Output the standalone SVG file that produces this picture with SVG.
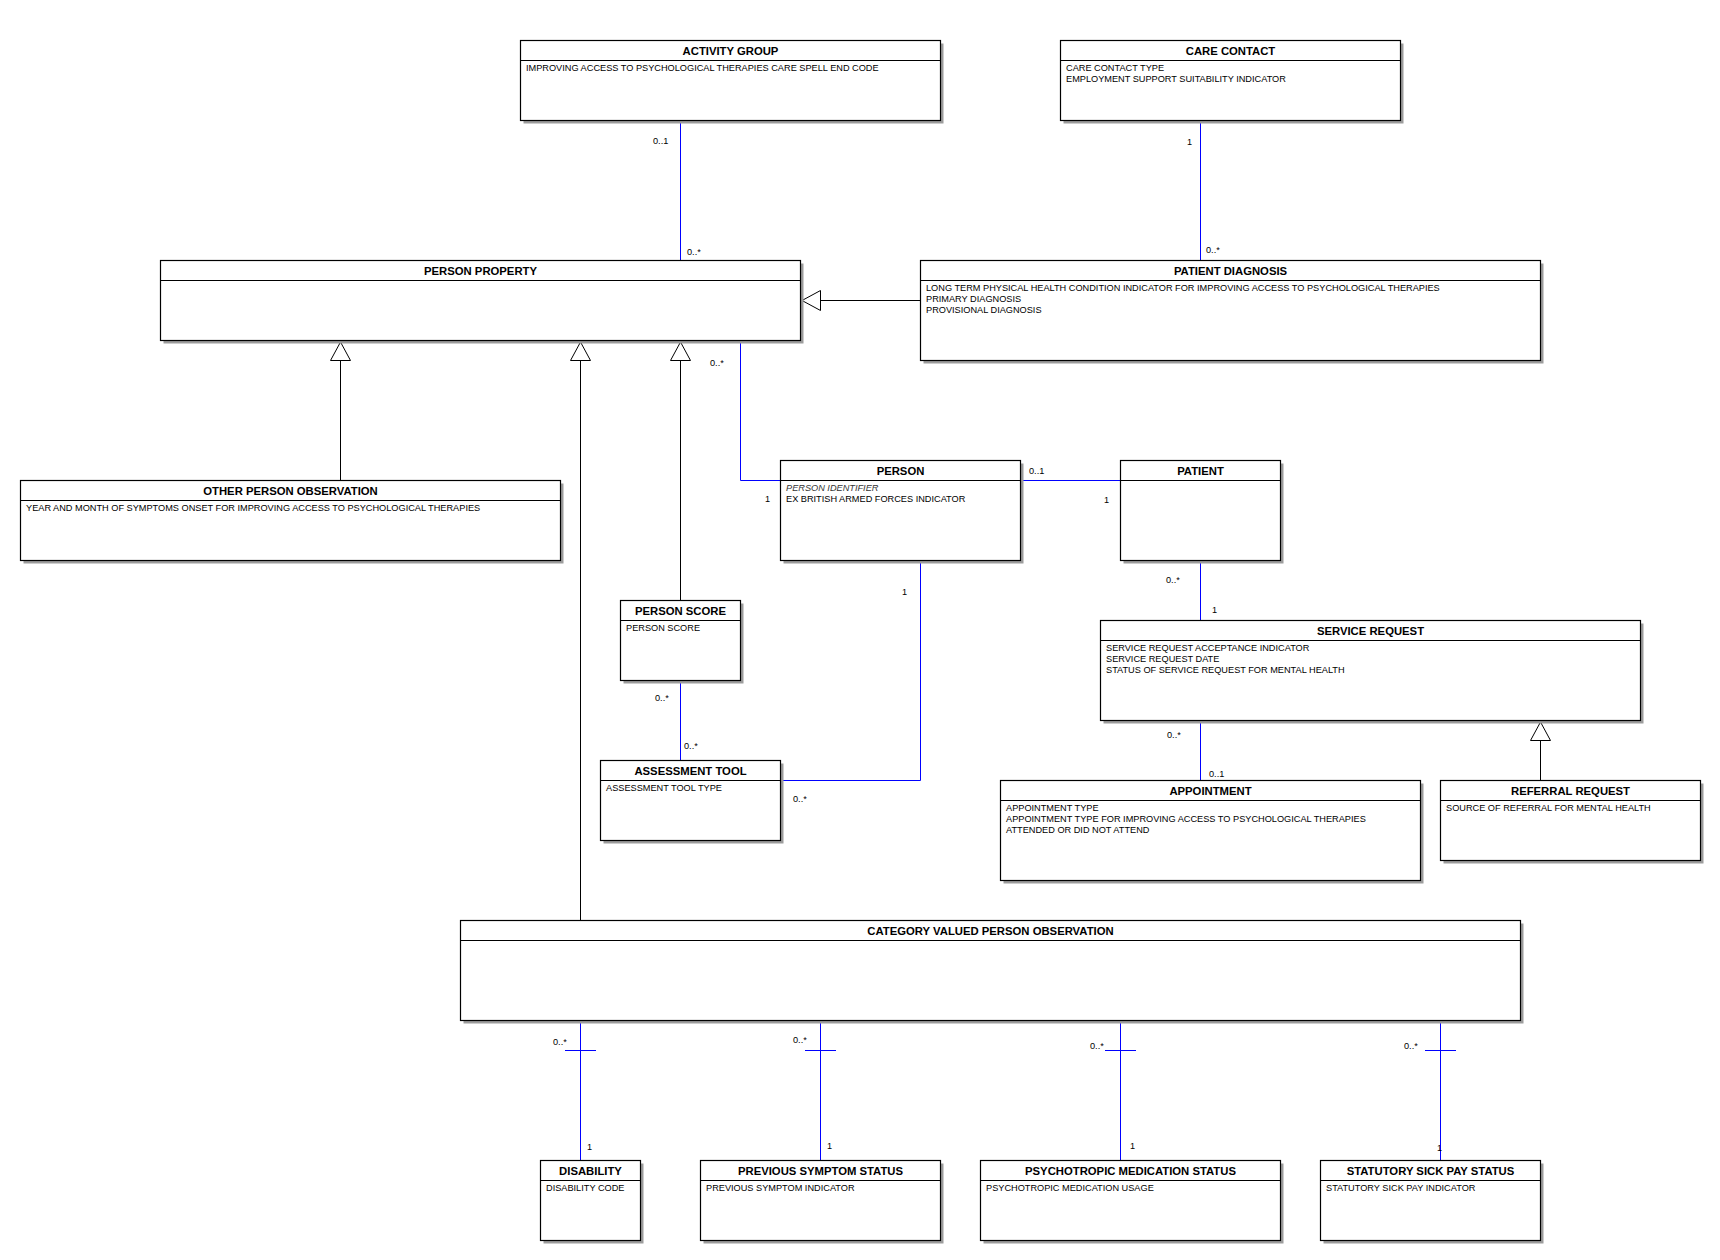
<svg xmlns="http://www.w3.org/2000/svg" width="1720" height="1260" viewBox="0 0 1720 1260">
<style>
.sh{fill:#9c9c9c}
.bx{fill:#fff;stroke:#000;stroke-width:1.2}
.sep{stroke:#000;stroke-width:1}
.hdr{font-family:"Liberation Sans",Arial,sans-serif;font-size:11.3px;font-weight:bold;text-anchor:middle;fill:#000}
.at{font-family:"Liberation Sans",Arial,sans-serif;font-size:9.2px;fill:#000}
.it{font-style:italic;fill:#333}
.lb{font-family:"Liberation Sans",Arial,sans-serif;font-size:9.2px;fill:#000}
.as{fill:none;stroke:#0000ff;stroke-width:1}
.gn{fill:none;stroke:#000;stroke-width:1}
.tr{fill:#fff;stroke:#000;stroke-width:1}
</style>
<rect width="1720" height="1260" fill="#fff"/>
<g id="connectors">
  <line class="as" x1="680.5" y1="120" x2="680.5" y2="260"/>
  <line class="as" x1="1200.5" y1="120" x2="1200.5" y2="260"/>
  <polyline class="as" points="740.5,340 740.5,480.5 780,480.5"/>
  <line class="as" x1="1020" y1="480.5" x2="1120" y2="480.5"/>
  <line class="as" x1="1200.5" y1="560" x2="1200.5" y2="620"/>
  <line class="as" x1="680.5" y1="680" x2="680.5" y2="760"/>
  <polyline class="as" points="920.5,560 920.5,780.5 780,780.5"/>
  <line class="as" x1="1200.5" y1="720" x2="1200.5" y2="780"/>
  <line class="as" x1="580.5" y1="1020" x2="580.5" y2="1160"/>
  <line class="as" x1="565" y1="1050.5" x2="596" y2="1050.5"/>
  <line class="as" x1="820.5" y1="1020" x2="820.5" y2="1160"/>
  <line class="as" x1="805" y1="1050.5" x2="836" y2="1050.5"/>
  <line class="as" x1="1120.5" y1="1020" x2="1120.5" y2="1160"/>
  <line class="as" x1="1105" y1="1050.5" x2="1136" y2="1050.5"/>
  <line class="as" x1="1440.5" y1="1020" x2="1440.5" y2="1160"/>
  <line class="as" x1="1425" y1="1050.5" x2="1456" y2="1050.5"/>
  <line class="gn" x1="920" y1="300.5" x2="820.5" y2="300.5"/>
  <polygon class="tr" points="802,300.5 820.5,290.5 820.5,310.5"/>
  <line class="gn" x1="340.5" y1="480" x2="340.5" y2="360.5"/>
  <polygon class="tr" points="340.5,342 330.5,360.5 350.5,360.5"/>
  <line class="gn" x1="580.5" y1="920" x2="580.5" y2="360.5"/>
  <polygon class="tr" points="580.5,342 570.5,360.5 590.5,360.5"/>
  <line class="gn" x1="680.5" y1="600" x2="680.5" y2="360.5"/>
  <polygon class="tr" points="680.5,342 670.5,360.5 690.5,360.5"/>
  <line class="gn" x1="1540.5" y1="780" x2="1540.5" y2="740.5"/>
  <polygon class="tr" points="1540.5,722 1530.5,740.5 1550.5,740.5"/>
  <text class="lb" x="653" y="144">0..1</text>
  <text class="lb" x="687" y="255">0..*</text>
  <text class="lb" x="1187" y="145">1</text>
  <text class="lb" x="1206" y="253">0..*</text>
  <text class="lb" x="710" y="366">0..*</text>
  <text class="lb" x="765" y="502">1</text>
  <text class="lb" x="1029" y="474">0..1</text>
  <text class="lb" x="1104" y="503">1</text>
  <text class="lb" x="1166" y="583">0..*</text>
  <text class="lb" x="1212" y="613">1</text>
  <text class="lb" x="655" y="701">0..*</text>
  <text class="lb" x="684" y="749">0..*</text>
  <text class="lb" x="902" y="595">1</text>
  <text class="lb" x="793" y="802">0..*</text>
  <text class="lb" x="1167" y="738">0..*</text>
  <text class="lb" x="1209" y="777">0..1</text>
  <text class="lb" x="553" y="1045">0..*</text>
  <text class="lb" x="587" y="1150">1</text>
  <text class="lb" x="793" y="1043">0..*</text>
  <text class="lb" x="827" y="1149">1</text>
  <text class="lb" x="1090" y="1049">0..*</text>
  <text class="lb" x="1130" y="1149">1</text>
  <text class="lb" x="1404" y="1049">0..*</text>
  <text class="lb" x="1437" y="1151">1</text>
</g>
<g id="activity-group">
  <rect class="sh" x="523.5" y="43.5" width="420" height="80"/>
  <rect class="bx" x="520.5" y="40.5" width="420" height="80"/>
  <line class="sep" x1="520.5" y1="60.5" x2="940.5" y2="60.5"/>
  <text class="hdr" x="730.5" y="55">ACTIVITY GROUP</text>
  <text class="at" x="526" y="71">IMPROVING ACCESS TO PSYCHOLOGICAL THERAPIES CARE SPELL END CODE</text>
</g>
<g id="care-contact">
  <rect class="sh" x="1063.5" y="43.5" width="340" height="80"/>
  <rect class="bx" x="1060.5" y="40.5" width="340" height="80"/>
  <line class="sep" x1="1060.5" y1="60.5" x2="1400.5" y2="60.5"/>
  <text class="hdr" x="1230.5" y="55">CARE CONTACT</text>
  <text class="at" x="1066" y="71">CARE CONTACT TYPE</text>
  <text class="at" x="1066" y="82">EMPLOYMENT SUPPORT SUITABILITY INDICATOR</text>
</g>
<g id="person-property">
  <rect class="sh" x="163.5" y="263.5" width="640" height="80"/>
  <rect class="bx" x="160.5" y="260.5" width="640" height="80"/>
  <line class="sep" x1="160.5" y1="280.5" x2="800.5" y2="280.5"/>
  <text class="hdr" x="480.5" y="275">PERSON PROPERTY</text>
</g>
<g id="patient-diagnosis">
  <rect class="sh" x="923.5" y="263.5" width="620" height="100"/>
  <rect class="bx" x="920.5" y="260.5" width="620" height="100"/>
  <line class="sep" x1="920.5" y1="280.5" x2="1540.5" y2="280.5"/>
  <text class="hdr" x="1230.5" y="275">PATIENT DIAGNOSIS</text>
  <text class="at" x="926" y="291">LONG TERM PHYSICAL HEALTH CONDITION INDICATOR FOR IMPROVING ACCESS TO PSYCHOLOGICAL THERAPIES</text>
  <text class="at" x="926" y="302">PRIMARY DIAGNOSIS</text>
  <text class="at" x="926" y="313">PROVISIONAL DIAGNOSIS</text>
</g>
<g id="other-person-observation">
  <rect class="sh" x="23.5" y="483.5" width="540" height="80"/>
  <rect class="bx" x="20.5" y="480.5" width="540" height="80"/>
  <line class="sep" x1="20.5" y1="500.5" x2="560.5" y2="500.5"/>
  <text class="hdr" x="290.5" y="495">OTHER PERSON OBSERVATION</text>
  <text class="at" x="26" y="511">YEAR AND MONTH OF SYMPTOMS ONSET FOR IMPROVING ACCESS TO PSYCHOLOGICAL THERAPIES</text>
</g>
<g id="person">
  <rect class="sh" x="783.5" y="463.5" width="240" height="100"/>
  <rect class="bx" x="780.5" y="460.5" width="240" height="100"/>
  <line class="sep" x1="780.5" y1="480.5" x2="1020.5" y2="480.5"/>
  <text class="hdr" x="900.5" y="475">PERSON</text>
  <text class="at it" x="786" y="491">PERSON IDENTIFIER</text>
  <text class="at" x="786" y="502">EX BRITISH ARMED FORCES INDICATOR</text>
</g>
<g id="patient">
  <rect class="sh" x="1123.5" y="463.5" width="160" height="100"/>
  <rect class="bx" x="1120.5" y="460.5" width="160" height="100"/>
  <line class="sep" x1="1120.5" y1="480.5" x2="1280.5" y2="480.5"/>
  <text class="hdr" x="1200.5" y="475">PATIENT</text>
</g>
<g id="person-score">
  <rect class="sh" x="623.5" y="603.5" width="120" height="80"/>
  <rect class="bx" x="620.5" y="600.5" width="120" height="80"/>
  <line class="sep" x1="620.5" y1="620.5" x2="740.5" y2="620.5"/>
  <text class="hdr" x="680.5" y="615">PERSON SCORE</text>
  <text class="at" x="626" y="631">PERSON SCORE</text>
</g>
<g id="assessment-tool">
  <rect class="sh" x="603.5" y="763.5" width="180" height="80"/>
  <rect class="bx" x="600.5" y="760.5" width="180" height="80"/>
  <line class="sep" x1="600.5" y1="780.5" x2="780.5" y2="780.5"/>
  <text class="hdr" x="690.5" y="775">ASSESSMENT TOOL</text>
  <text class="at" x="606" y="791">ASSESSMENT TOOL TYPE</text>
</g>
<g id="service-request">
  <rect class="sh" x="1103.5" y="623.5" width="540" height="100"/>
  <rect class="bx" x="1100.5" y="620.5" width="540" height="100"/>
  <line class="sep" x1="1100.5" y1="640.5" x2="1640.5" y2="640.5"/>
  <text class="hdr" x="1370.5" y="635">SERVICE REQUEST</text>
  <text class="at" x="1106" y="651">SERVICE REQUEST ACCEPTANCE INDICATOR</text>
  <text class="at" x="1106" y="662">SERVICE REQUEST DATE</text>
  <text class="at" x="1106" y="673">STATUS OF SERVICE REQUEST FOR MENTAL HEALTH</text>
</g>
<g id="appointment">
  <rect class="sh" x="1003.5" y="783.5" width="420" height="100"/>
  <rect class="bx" x="1000.5" y="780.5" width="420" height="100"/>
  <line class="sep" x1="1000.5" y1="800.5" x2="1420.5" y2="800.5"/>
  <text class="hdr" x="1210.5" y="795">APPOINTMENT</text>
  <text class="at" x="1006" y="811">APPOINTMENT TYPE</text>
  <text class="at" x="1006" y="822">APPOINTMENT TYPE FOR IMPROVING ACCESS TO PSYCHOLOGICAL THERAPIES</text>
  <text class="at" x="1006" y="833">ATTENDED OR DID NOT ATTEND</text>
</g>
<g id="referral-request">
  <rect class="sh" x="1443.5" y="783.5" width="260" height="80"/>
  <rect class="bx" x="1440.5" y="780.5" width="260" height="80"/>
  <line class="sep" x1="1440.5" y1="800.5" x2="1700.5" y2="800.5"/>
  <text class="hdr" x="1570.5" y="795">REFERRAL REQUEST</text>
  <text class="at" x="1446" y="811">SOURCE OF REFERRAL FOR MENTAL HEALTH</text>
</g>
<g id="category-valued-person-observation">
  <rect class="sh" x="463.5" y="923.5" width="1060" height="100"/>
  <rect class="bx" x="460.5" y="920.5" width="1060" height="100"/>
  <line class="sep" x1="460.5" y1="940.5" x2="1520.5" y2="940.5"/>
  <text class="hdr" x="990.5" y="935">CATEGORY VALUED PERSON OBSERVATION</text>
</g>
<g id="disability">
  <rect class="sh" x="543.5" y="1163.5" width="100" height="80"/>
  <rect class="bx" x="540.5" y="1160.5" width="100" height="80"/>
  <line class="sep" x1="540.5" y1="1180.5" x2="640.5" y2="1180.5"/>
  <text class="hdr" x="590.5" y="1175">DISABILITY</text>
  <text class="at" x="546" y="1191">DISABILITY CODE</text>
</g>
<g id="previous-symptom-status">
  <rect class="sh" x="703.5" y="1163.5" width="240" height="80"/>
  <rect class="bx" x="700.5" y="1160.5" width="240" height="80"/>
  <line class="sep" x1="700.5" y1="1180.5" x2="940.5" y2="1180.5"/>
  <text class="hdr" x="820.5" y="1175">PREVIOUS SYMPTOM STATUS</text>
  <text class="at" x="706" y="1191">PREVIOUS SYMPTOM INDICATOR</text>
</g>
<g id="psychotropic-medication-status">
  <rect class="sh" x="983.5" y="1163.5" width="300" height="80"/>
  <rect class="bx" x="980.5" y="1160.5" width="300" height="80"/>
  <line class="sep" x1="980.5" y1="1180.5" x2="1280.5" y2="1180.5"/>
  <text class="hdr" x="1130.5" y="1175">PSYCHOTROPIC MEDICATION STATUS</text>
  <text class="at" x="986" y="1191">PSYCHOTROPIC MEDICATION USAGE</text>
</g>
<g id="statutory-sick-pay-status">
  <rect class="sh" x="1323.5" y="1163.5" width="220" height="80"/>
  <rect class="bx" x="1320.5" y="1160.5" width="220" height="80"/>
  <line class="sep" x1="1320.5" y1="1180.5" x2="1540.5" y2="1180.5"/>
  <text class="hdr" x="1430.5" y="1175">STATUTORY SICK PAY STATUS</text>
  <text class="at" x="1326" y="1191">STATUTORY SICK PAY INDICATOR</text>
</g>
</svg>
